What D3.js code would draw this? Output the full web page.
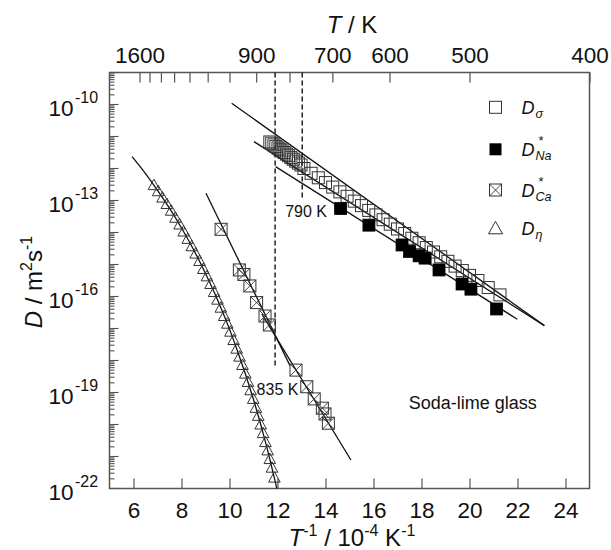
<!DOCTYPE html>
<html><head><meta charset="utf-8">
<script src="https://cdn.jsdelivr.net/npm/d3@7"></script>
<style>
body{margin:0;background:#fff;}
svg text{font-family:"Liberation Sans",Arial,Helvetica,sans-serif;fill:#111;}
</style></head><body>
<svg id="c" width="611" height="550"></svg>
<script>
// ---------- data (x = 10^4/T in K^-1, values as log10 D) ----------
const xTicks = [6,8,10,12,14,16,18,20,22,24];
const topTempTicks = [1600,1500,1400,1300,1200,1100,1000,900,800,700,600,500,400];
const topTempLabels = [1600,900,700,600,500,400];
const yLabelExps = [-10,-13,-16,-19,-22];

const sigmaX = [11.68,11.76,11.85,11.93,12.02,12.10,12.19,12.28,12.37,12.46,12.56,12.66,12.76,12.87,12.98,
  13.10,13.40,13.70,14.00,14.30,14.60,14.90,15.20,15.50,15.80,16.10,16.40,16.70,17.00,17.30,17.60,17.90,
  18.20,18.50,18.80,19.10,19.40,19.70,20.00,20.35,20.78,21.27];
const sigmaLogD = [-11.17,-11.21,-11.26,-11.31,-11.36,-11.40,-11.45,-11.50,-11.55,-11.60,-11.66,-11.71,-11.77,-11.83,-11.89,
  -12.00,-12.15,-12.29,-12.44,-12.58,-12.73,-12.87,-13.02,-13.16,-13.31,-13.45,-13.60,-13.74,-13.89,-14.03,-14.18,-14.32,
  -14.47,-14.61,-14.76,-14.90,-15.05,-15.19,-15.34,-15.50,-15.72,-15.95];

const naX = [14.63,15.81,17.19,17.50,17.90,18.15,18.73,19.69,20.06,21.13];
const naLogD = [-13.25,-13.77,-14.39,-14.59,-14.73,-14.80,-15.17,-15.61,-15.77,-16.39];

const caX = [9.65,10.41,10.60,10.85,11.13,11.48,11.66,12.77,13.22,13.53,13.87,13.98,14.12];
const caLogD = [-13.90,-15.17,-15.31,-15.67,-16.19,-16.61,-16.89,-18.30,-18.82,-19.20,-19.49,-19.67,-19.96];

const etaX = [6.85,7.03,7.21,7.39,7.57,7.75,7.92,8.09,8.26,8.43,8.59,8.75,8.91,9.06,9.21,9.36,9.50,9.64,9.78,
  9.91,10.04,10.17,10.30,10.42,10.54,10.66,10.77,10.88,10.99,11.10,11.20,11.30,11.40,11.50,11.59,11.68,11.77,11.87];
const etaLogD = [-12.52,-12.71,-12.91,-13.11,-13.32,-13.54,-13.75,-13.97,-14.20,-14.43,-14.66,-14.89,-15.14,-15.37,
  -15.61,-15.86,-16.10,-16.35,-16.61,-16.85,-17.10,-17.36,-17.63,-17.88,-18.14,-18.41,-18.67,-18.93,-19.20,-19.48,
  -19.73,-20.00,-20.27,-20.55,-20.81,-21.08,-21.35,-21.66];

const etaCurveX = [5.94,6.5,7.0,7.5,8.0,8.5,9.0,9.5,10.0,10.5,11.0,11.5,11.98];
const etaCurveLogD = [-11.63,-12.16,-12.68,-13.24,-13.86,-14.53,-15.28,-16.10,-17.02,-18.06,-19.22,-20.55,-22.02];

// straight fit lines: [x0, x1] and [logD0, logD1]
const fitSigmaHighX = [10.09, 23.12], fitSigmaHighLogD = [-9.96, -16.91];
const fitSigmaLowX  = [11.02, 23.12], fitSigmaLowLogD  = [-11.16, -16.91];
const fitNaX        = [11.92, 21.99], fitNaLogD        = [-11.94, -16.71];
const fitCaHighX    = [9.02, 12.52],  fitCaHighLogD    = [-12.775, -18.16];
const fitCaLowX     = [11.35, 15.06], fitCaLowLogD     = [-16.55, -21.11];

// dashed markers (835 K and 790 K)
const dashedX = [11.90, 13.03];
const dashedBottomLogD = [-18.19, -12.93];
const dashedLabels = ["835 K", "790 K"];

// ---------- drawing ----------
const W=611,H=550;
const M={l:109.5,r:589.5,t:72.5,b:488.5};
const x=d3.scaleLinear().domain([5,25]).range([M.l,M.r]);
const y=d3.scaleLog().domain([1e-22,1e-9]).range([M.b,M.t]);
const P=v=>Math.pow(10,v);
const axisColor="#555";
const markColor="#333";

const svg=d3.select('#c');
svg.append('rect').attr('width',W).attr('height',H).attr('fill','#fff');
svg.append('clipPath').attr('id','clip').append('rect')
  .attr('x',M.l).attr('y',M.t).attr('width',M.r-M.l).attr('height',M.b-M.t);

// bottom axis
const gx=svg.append('g').attr('transform',`translate(0,${M.b})`)
  .call(d3.axisBottom(x).tickValues(xTicks).tickSizeInner(-10).tickSizeOuter(0).tickPadding(13.5).tickFormat(d3.format('d')));
gx.select('.domain').remove();
gx.selectAll('line').attr('stroke',axisColor).attr('stroke-width',1.2);
gx.selectAll('text').attr('font-size',22.5).attr('fill','#111').attr('font-family',null);

// top axis (temperature)
const gt=svg.append('g').attr('transform',`translate(0,${M.t})`)
  .call(d3.axisTop(x).tickValues(topTempTicks.map(t=>1e4/t)).tickSizeInner(-10).tickSizeOuter(0).tickPadding(9.5)
    .tickFormat(d=>{const T=Math.round(1e4/d);return topTempLabels.includes(T)?String(T):'';}));
gt.select('.domain').remove();
gt.selectAll('line').attr('stroke',axisColor).attr('stroke-width',1.2);
gt.selectAll('text').attr('font-size',22.5).attr('fill','#111').attr('font-family',null);

// left axis ticks (log, minor 2..9)
const yTickVals=[];
for(let e=-22;e<=-9;e++){for(let m=1;m<=9;m++){const v=m*Math.pow(10,e);if(v<=1.0000001e-9)yTickVals.push({v,major:m===1});}}
svg.append('g').selectAll('line').data(yTickVals).join('line')
  .attr('x1',M.l).attr('x2',d=>M.l+(d.major?9:5))
  .attr('y1',d=>y(d.v)).attr('y2',d=>y(d.v))
  .attr('stroke',axisColor).attr('stroke-width',1.1);

// left axis labels 10^n
const yl=svg.append('g');
yLabelExps.forEach(e=>{
  const yy=y(P(e));
  yl.append('text').attr('x',73.5).attr('y',yy+11.5).attr('text-anchor','end').attr('font-size',22.5).text('10');
  yl.append('text').attr('x',75).attr('y',yy-2).attr('font-size',16).text(String(e));
});

// frame
svg.append('rect').attr('x',M.l).attr('y',M.t).attr('width',M.r-M.l).attr('height',M.b-M.t)
  .attr('fill','none').attr('stroke',axisColor).attr('stroke-width',1.5);

// axis titles
const tt=svg.append('text').attr('x',352).attr('y',33.3).attr('text-anchor','middle').attr('font-size',24);
tt.append('tspan').attr('font-style','italic').text('T');
tt.append('tspan').text(' / K');

const bt=svg.append('text').attr('x',352).attr('y',546).attr('text-anchor','middle').attr('font-size',24);
bt.append('tspan').attr('font-style','italic').text('T');
bt.append('tspan').attr('font-size',16).attr('dy',-10).text('-1');
bt.append('tspan').attr('dy',10).text(' / 10');
bt.append('tspan').attr('font-size',16).attr('dy',-10).text('-4');
bt.append('tspan').attr('dy',10).text(' K');
bt.append('tspan').attr('font-size',16).attr('dy',-10).text('-1');

const lt=svg.append('text').attr('transform','translate(42,282) rotate(-90)').attr('text-anchor','middle').attr('font-size',24);
lt.append('tspan').attr('font-style','italic').text('D');
lt.append('tspan').text(' / m');
lt.append('tspan').attr('font-size',16).attr('dy',-10).text('2');
lt.append('tspan').attr('dy',10).text('s');
lt.append('tspan').attr('font-size',16).attr('dy',-10).text('-1');

// plot contents
const plot=svg.append('g').attr('clip-path','url(#clip)');

// dashed lines
dashedX.forEach((dx,i)=>{
  plot.append('line').attr('x1',x(dx)).attr('x2',x(dx)).attr('y1',M.t).attr('y2',y(P(dashedBottomLogD[i])))
    .attr('stroke','#111').attr('stroke-width',1.4).attr('stroke-dasharray','5,3');
});

const line=d3.line().x(d=>x(d[0])).y(d=>y(P(d[1])));
function fit(xs,ls){
  plot.append('path').attr('d',line(xs.map((v,i)=>[v,ls[i]]))).attr('fill','none').attr('stroke','#111').attr('stroke-width',1.3);
}
fit(fitSigmaHighX,fitSigmaHighLogD);
fit(fitSigmaLowX,fitSigmaLowLogD);
fit(fitNaX,fitNaLogD);
fit(fitCaHighX,fitCaHighLogD);
fit(fitCaLowX,fitCaLowLogD);
plot.append('path').attr('d',line.curve(d3.curveMonotoneX)(etaCurveX.map((v,i)=>[v,etaCurveLogD[i]])))
  .attr('fill','none').attr('stroke','#111').attr('stroke-width',1.3);

// markers
const S=12,h=S/2;
function openSquares(g,xs,ls){
  g.selectAll(null).data(xs.map((v,i)=>[v,ls[i]])).join('rect')
    .attr('x',d=>x(d[0])-h).attr('y',d=>y(P(d[1]))-h).attr('width',S).attr('height',S)
    .attr('fill','none').attr('stroke',markColor).attr('stroke-width',1);
}
function crossSquares(g,xs,ls){
  const sel=g.selectAll(null).data(xs.map((v,i)=>[v,ls[i]])).join('g')
    .attr('transform',d=>`translate(${x(d[0])},${y(P(d[1]))})`);
  sel.append('rect').attr('x',-h).attr('y',-h).attr('width',S).attr('height',S).attr('fill','none').attr('stroke',markColor).attr('stroke-width',1);
  sel.append('path').attr('d',`M${-h},${-h}L${h},${h}M${h},${-h}L${-h},${h}`).attr('stroke',markColor).attr('stroke-width',0.9);
}
function filledSquares(g,xs,ls){
  g.selectAll(null).data(xs.map((v,i)=>[v,ls[i]])).join('rect')
    .attr('x',d=>x(d[0])-h).attr('y',d=>y(P(d[1]))-h).attr('width',S).attr('height',S)
    .attr('fill','#000').attr('stroke','#000').attr('stroke-width',0.8);
}
const triPath='M0,-6L5.8,4.5L-5.8,4.5Z';
function triangles(g,xs,ls){
  g.selectAll(null).data(xs.map((v,i)=>[v,ls[i]])).join('path')
    .attr('transform',d=>`translate(${x(d[0])},${y(P(d[1]))})`).attr('d',triPath)
    .attr('fill','none').attr('stroke',markColor).attr('stroke-width',1);
}
triangles(plot.append('g'),etaX,etaLogD);
crossSquares(plot.append('g'),caX,caLogD);
openSquares(plot.append('g'),sigmaX,sigmaLogD);
filledSquares(plot.append('g'),naX,naLogD);

// annotations
svg.append('text').attr('x',x(dashedX[1])-17).attr('y',216.5).attr('font-size',16).text(dashedLabels[1]);
svg.append('text').attr('x',x(dashedX[0])-18.5).attr('y',395).attr('font-size',16).text(dashedLabels[0]);
svg.append('text').attr('x',536.7).attr('y',409).attr('text-anchor','end').attr('font-size',18).text('Soda-lime glass');

// legend
const lg=svg.append('g');
const lx=495.5, tx=521.5;
const rows=[107.3,149.3,190,228.3];
lg.append('rect').attr('x',lx-h).attr('y',rows[0]-h).attr('width',S).attr('height',S).attr('fill','none').attr('stroke',markColor);
lg.append('rect').attr('x',lx-h).attr('y',rows[1]-h).attr('width',S).attr('height',S).attr('fill','#000');
const lc=lg.append('g').attr('transform',`translate(${lx},${rows[2]})`);
lc.append('rect').attr('x',-h).attr('y',-h).attr('width',S).attr('height',S).attr('fill','none').attr('stroke',markColor);
lc.append('path').attr('d',`M${-h},${-h}L${h},${h}M${h},${-h}L${-h},${h}`).attr('stroke',markColor).attr('stroke-width',0.9);
lg.append('path').attr('transform',`translate(${lx},${rows[3]})`).attr('d','M0,-7L7,5.5L-7,5.5Z').attr('fill','none').attr('stroke',markColor);

function legLabel(yc,sub,star){
  lg.append('text').attr('x',tx).attr('y',yc+6.5).attr('font-size',18).attr('font-style','italic').text('D');
  lg.append('text').attr('x',tx+14).attr('y',yc+11).attr('font-size',12.5).attr('font-style','italic').text(sub);
  if(star) lg.append('text').attr('x',tx+17).attr('y',yc-4.5).attr('font-size',13).text('*');
}
legLabel(rows[0],'σ',false);
legLabel(rows[1],'Na',true);
legLabel(rows[2],'Ca',true);
legLabel(rows[3],'η',false);
</script>
</body></html>
